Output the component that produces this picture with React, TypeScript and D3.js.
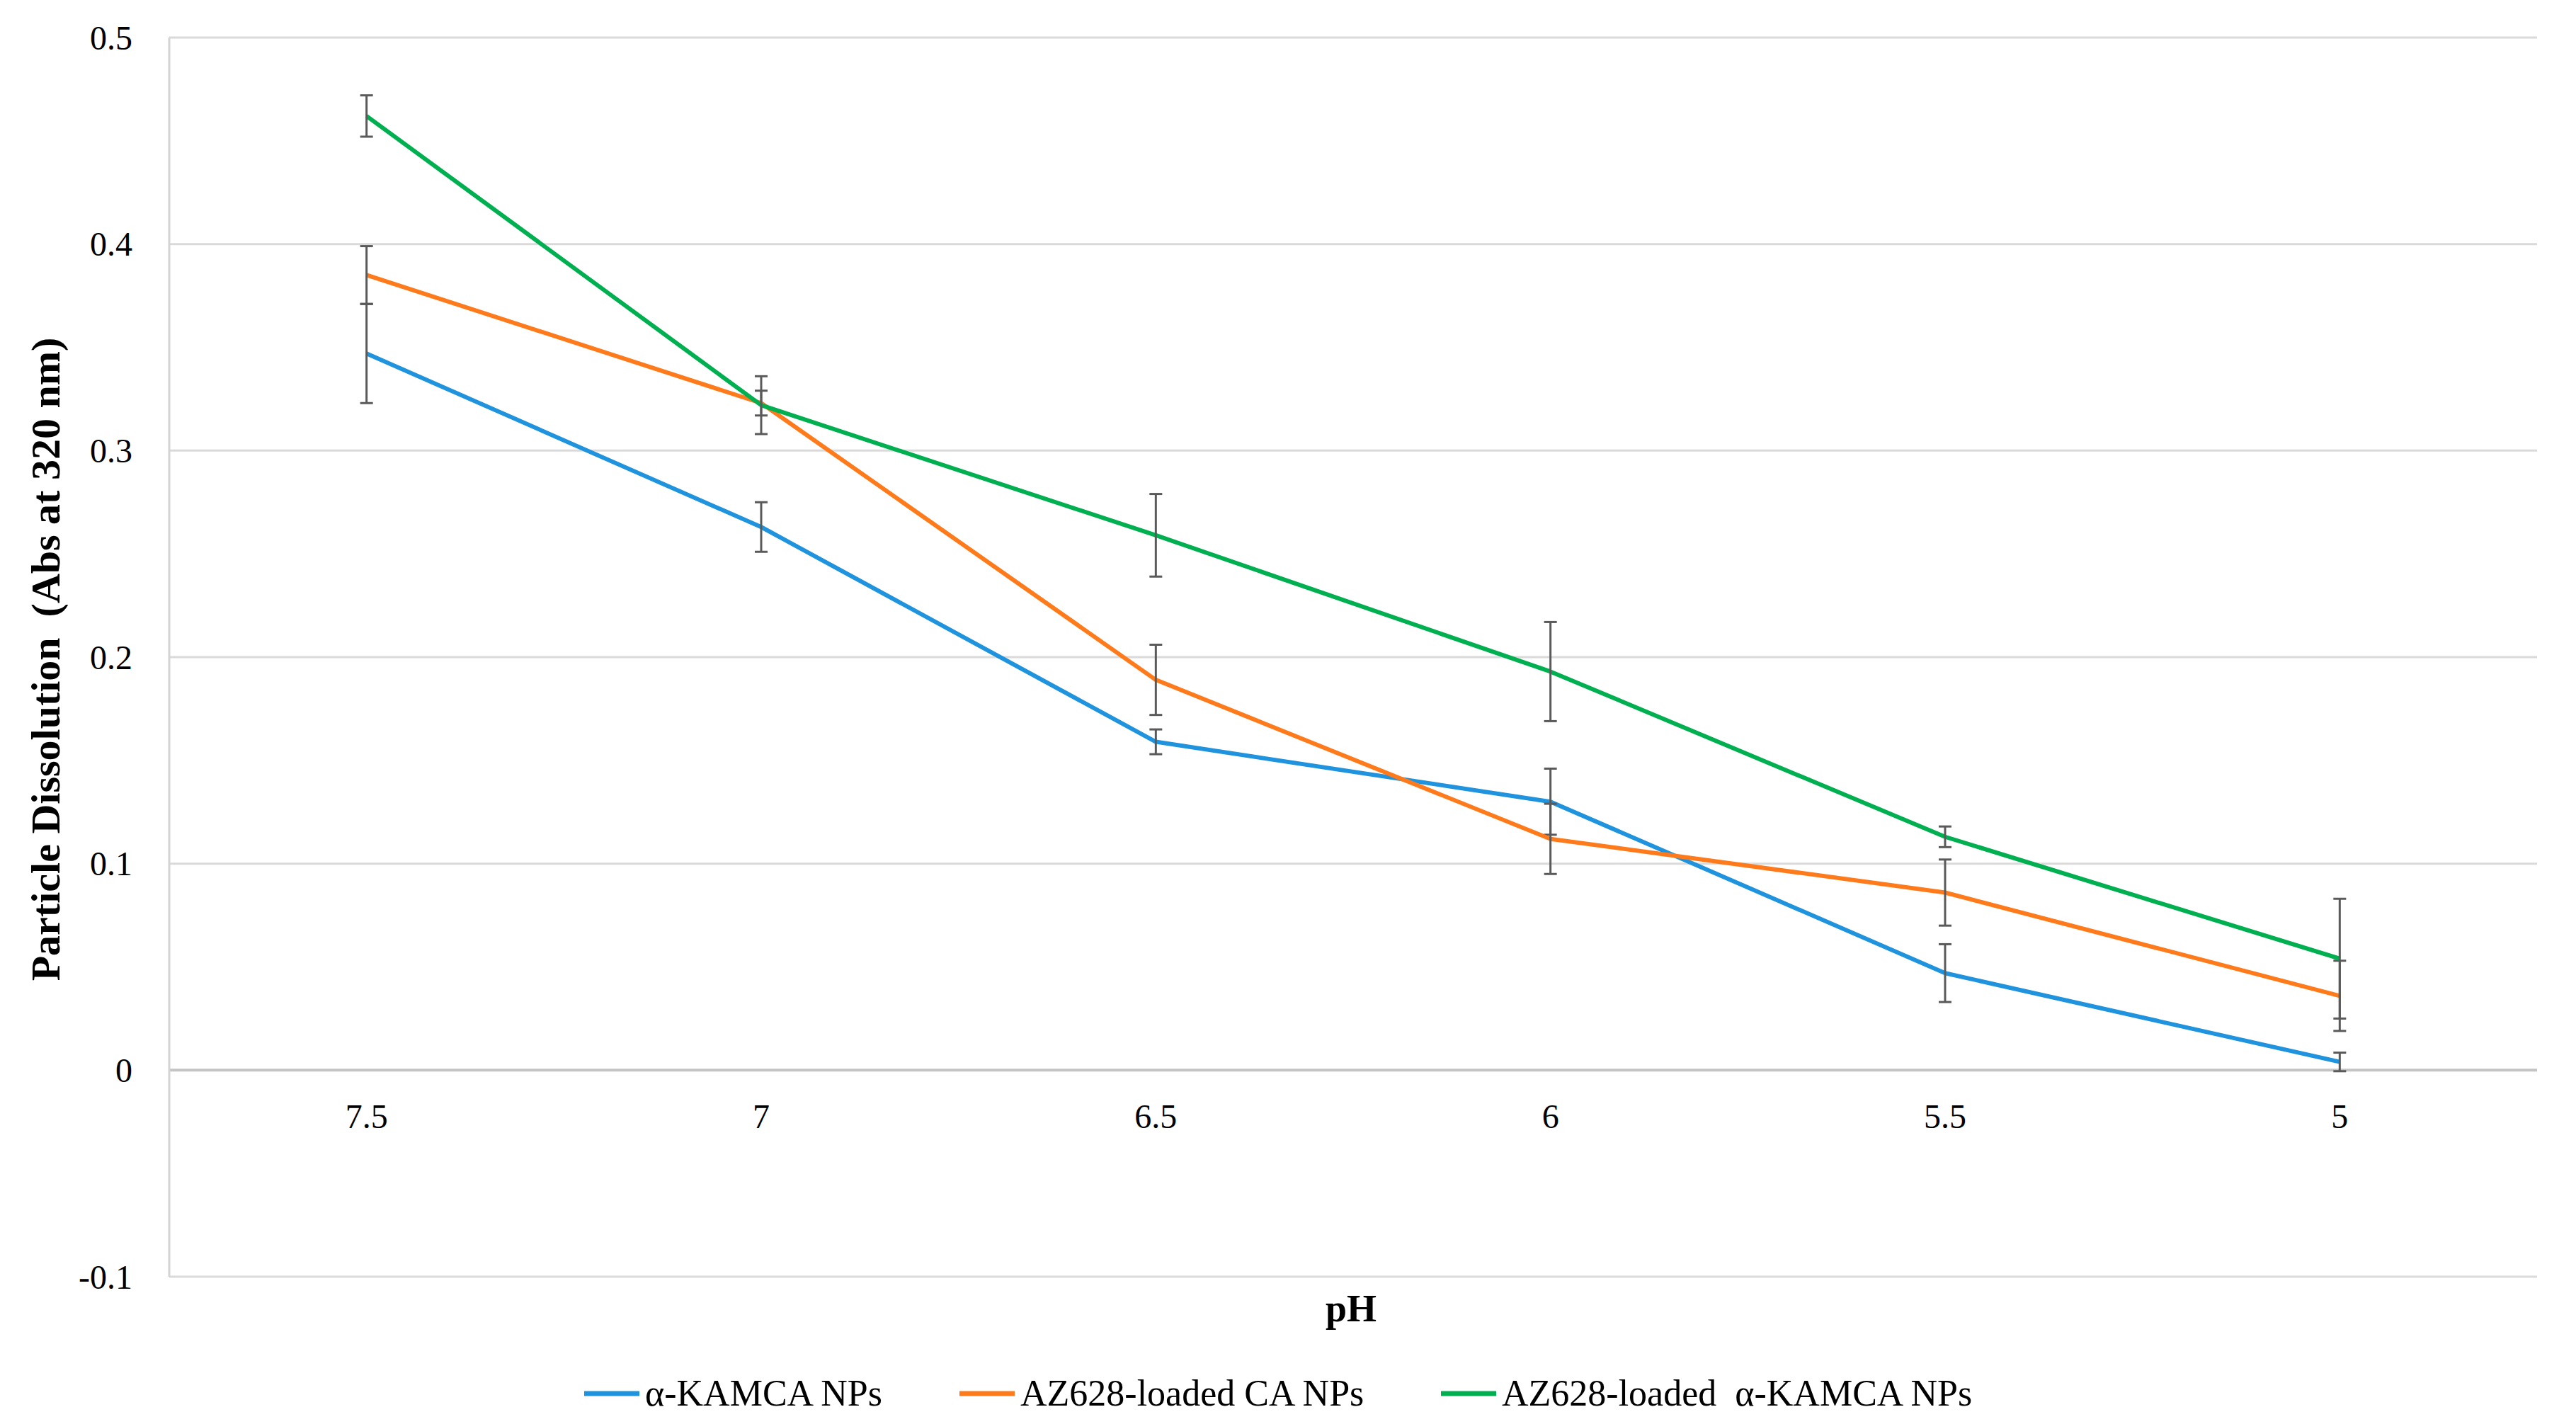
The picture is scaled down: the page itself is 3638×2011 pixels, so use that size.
import * as d3 from 'd3';

const categories = ['7.5', '7', '6.5', '6', '5.5', '5'];
const yTicks = [0.5, 0.4, 0.3, 0.2, 0.1, 0, -0.1];

const seriesNames = ['α-KAMCA NPs', 'AZ628-loaded CA NPs', 'AZ628-loaded  α-KAMCA NPs'];
const seriesColors = ['#1f93dd', '#ff7a1a', '#00b050'];

const kamca = [0.347, 0.263, 0.159, 0.13, 0.047, 0.004];
const kamcaErr = [0.024, 0.012, 0.006, 0.016, 0.014, 0.0045];
const caLoaded = [0.385, 0.323, 0.189, 0.112, 0.086, 0.036];
const caLoadedErr = [0.014, 0.006, 0.017, 0.017, 0.016, 0.017];
const kamcaLoaded = [0.462, 0.322, 0.259, 0.193, 0.113, 0.054];
const kamcaLoadedErr = [0.01, 0.014, 0.02, 0.024, 0.005, 0.029];

const WIDTH = 3638;
const HEIGHT = 2011;
const PLOT = { left: 239, right: 3583, top: 53, bottom: 1803 };
const FONT = '"Liberation Serif", "Times New Roman", serif';

export default function App() {
  const xScale = d3
    .scaleBand<string>()
    .domain(categories)
    .range([PLOT.left, PLOT.right])
    .padding(0);
  const yScale = d3.scaleLinear().domain([-0.1, 0.5]).range([PLOT.bottom, PLOT.top]);
  const cx = (c: string) => (xScale(c) ?? 0) + xScale.bandwidth() / 2;

  const series = [
    { values: kamca, errs: kamcaErr },
    { values: caLoaded, errs: caLoadedErr },
    { values: kamcaLoaded, errs: kamcaLoadedErr },
  ];

  const lineBuilder = d3
    .line<number>()
    .x((_, i) => cx(categories[i]))
    .y((d) => yScale(d));

  const legendX = [825, 1355, 2035];

  return (
    <svg
      width={WIDTH}
      height={HEIGHT}
      style={{ position: 'absolute', left: 0, top: 0, background: '#fff' }}
      fontFamily={FONT}
    >
      <rect x={0} y={0} width={WIDTH} height={HEIGHT} fill="#fff" />

      {/* gridlines */}
      {yTicks.map((t) => (
        <line
          key={t}
          x1={PLOT.left}
          x2={PLOT.right}
          y1={yScale(t)}
          y2={yScale(t)}
          stroke={t === 0 ? '#c4c4c4' : '#dadada'}
          strokeWidth={t === 0 ? 4 : 3}
        />
      ))}
      <line
        x1={PLOT.left}
        x2={PLOT.left}
        y1={PLOT.top}
        y2={PLOT.bottom}
        stroke="#d4d4d4"
        strokeWidth={3}
      />

      {/* y tick labels */}
      {yTicks.map((t) => (
        <text
          key={t}
          x={187}
          y={yScale(t)}
          dy="0.35em"
          textAnchor="end"
          fontSize={48}
          fill="#000"
        >
          {t}
        </text>
      ))}

      {/* x tick labels */}
      {categories.map((c) => (
        <text key={c} x={cx(c)} y={1593} textAnchor="middle" fontSize={48} fill="#000">
          {c}
        </text>
      ))}

      {/* series */}
      {series.map((s, si) => (
        <g key={si}>
          <path
            d={lineBuilder(s.values) ?? ''}
            fill="none"
            stroke={seriesColors[si]}
            strokeWidth={6}
            strokeLinejoin="round"
          />
          {s.values.map((v, i) => {
            const x = cx(categories[i]);
            const y1 = yScale(v + s.errs[i]);
            const y2 = yScale(v - s.errs[i]);
            return (
              <g key={i} stroke="#5a5a5a" strokeWidth={3}>
                <line x1={x} x2={x} y1={y1} y2={y2} />
                <line x1={x - 9} x2={x + 9} y1={y1} y2={y1} />
                <line x1={x - 9} x2={x + 9} y1={y2} y2={y2} />
              </g>
            );
          })}
        </g>
      ))}

      {/* axis titles */}
      <text x={1908} y={1866} textAnchor="middle" fontSize={54} fontWeight="bold" fill="#000">
        pH
      </text>
      <text
        transform="translate(84,931) rotate(-90)"
        textAnchor="middle"
        fontSize={58}
        fontWeight="bold"
        fill="#000"
        style={{ whiteSpace: 'pre' }}
      >
        {'Particle Dissolution  (Abs at 320 nm)'}
      </text>

      {/* legend */}
      {seriesNames.map((name, i) => (
        <g key={name}>
          <line
            x1={legendX[i]}
            x2={legendX[i] + 78}
            y1={1968}
            y2={1968}
            stroke={seriesColors[i]}
            strokeWidth={7}
          />
          <text
            x={legendX[i] + 86}
            y={1985}
            fontSize={52}
            fill="#000"
            style={{ whiteSpace: 'pre' }}
          >
            {name}
          </text>
        </g>
      ))}
    </svg>
  );
}
